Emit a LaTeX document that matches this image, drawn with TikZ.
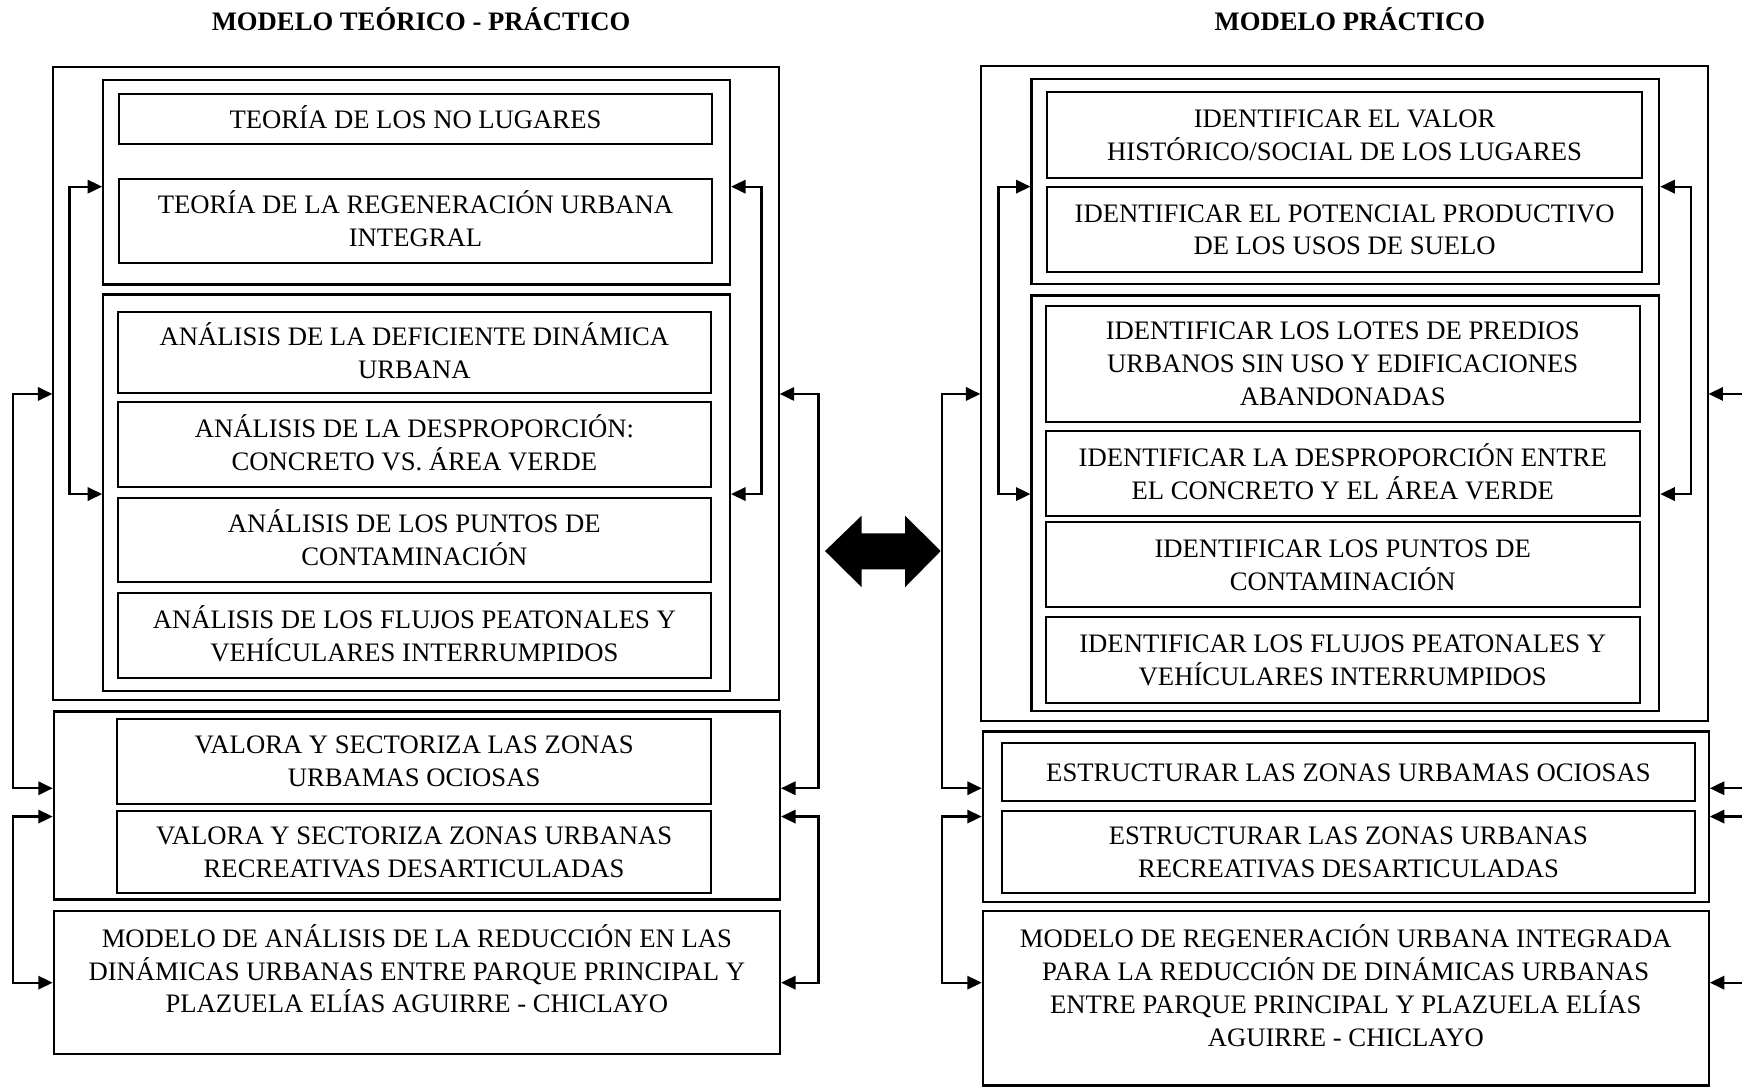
\documentclass[tikz,border=0pt]{standalone}
\usepackage{fontspec}
\setmainfont{Liberation Serif}
\usetikzlibrary{arrows.meta}
\newcommand{\mystrut}{\rule[-4pt]{0pt}{24pt}}
\newcommand{\lines}[1]{\mystrut#1\mystrut}
\newcommand{\fs}{\fontsize{24}{29.5}\selectfont}
\tikzset{
  outerbox/.style={draw, line width=1.7pt, inner sep=0pt, rectangle},
  groupbox/.style={draw, line width=2.1pt, inner sep=0pt, rectangle},
  item/.style={draw, line width=1.7pt, inner sep=0pt, rectangle, align=center, font=\fs},
  txt/.style={inner sep=0pt, align=center, font=\fs},
  ttl/.style={inner sep=0pt, font=\fs\bfseries, anchor=base},
  conn/.style={line width=2pt, {Triangle[length=13pt,width=12pt]}-{Triangle[length=13pt,width=12pt]}}
}
\begin{document}
\begin{tikzpicture}[x=1pt,y=-1pt]
\useasboundingbox (0,0) rectangle (1568,978);
\fill[white] (0,0) rectangle (1568,978);
\clip (0,0) rectangle (1568,978);

% titles
\node[ttl] (t1) at (379,27) {MODELO TEÓRICO - PRÁCTICO};
\node[ttl] (t2) at (1215,27) {MODELO PRÁCTICO};

% ---------------- left model ----------------
\node[outerbox, minimum width=653pt, minimum height=570pt] (A1) at (374.5,345) {};
\node[groupbox, minimum width=564pt, minimum height=184pt] (B1) at (375,164) {};
\node[item, minimum width=534pt, minimum height=45pt] (n1) at (374,107.5) {\lines{TEORÍA DE LOS NO LUGARES}};
\node[item, minimum width=534pt, minimum height=76pt] (n2) at (374,199) {\lines{TEORÍA DE LA REGENERACIÓN URBANA\\INTEGRAL}};
\node[groupbox, minimum width=564pt, minimum height=357pt] (B2) at (375,443.5) {};
\node[item, minimum width=534pt, minimum height=73pt] (n3) at (373,317.5) {\lines{ANÁLISIS DE LA DEFICIENTE DINÁMICA\\URBANA}};
\node[item, minimum width=534pt, minimum height=76pt] (n4) at (373,400) {\lines{ANÁLISIS DE LA DESPROPORCIÓN:\\CONCRETO VS. ÁREA VERDE}};
\node[item, minimum width=534pt, minimum height=76pt] (n5) at (373,486) {\lines{ANÁLISIS DE LOS PUNTOS DE\\CONTAMINACIÓN}};
\node[item, minimum width=534pt, minimum height=76pt] (n6) at (373,572) {\lines{ANÁLISIS DE LOS FLUJOS PEATONALES Y\\VEHÍCULARES INTERRUMPIDOS}};
\node[groupbox, minimum width=653.5pt, minimum height=169pt] (C1) at (375.25,725) {};
\node[item, minimum width=534.5pt, minimum height=76.6pt] (n7) at (372.75,685.3) {\lines{VALORA Y SECTORIZA LAS ZONAS\\URBAMAS OCIOSAS}};
\node[item, minimum width=534.5pt, minimum height=73.5pt] (n8) at (372.75,766.75) {\lines{VALORA Y SECTORIZA ZONAS URBANAS\\RECREATIVAS DESARTICULADAS}};
\node[groupbox, minimum width=653.5pt, minimum height=129pt] (D1) at (375.25,884.2) {};
\node[txt, anchor=north] (D1t) at ([yshift=-13.3pt]D1.north) {\lines{MODELO DE ANÁLISIS DE LA REDUCCIÓN EN LAS\\DINÁMICAS URBANAS ENTRE PARQUE PRINCIPAL Y\\PLAZUELA ELÍAS AGUIRRE - CHICLAYO}};

% ---------------- right model ----------------
\node[outerbox, minimum width=653.7pt, minimum height=589.2pt] (A2) at (1210.15,354) {};
\node[groupbox, minimum width=564.8pt, minimum height=184.2pt] (B3) at (1211,163.5) {};
\node[item, minimum width=535.2pt, minimum height=76.8pt] (m1) at (1210.3,121.5) {\lines{IDENTIFICAR EL VALOR\\HISTÓRICO/SOCIAL DE LOS LUGARES}};
\node[item, minimum width=535.2pt, minimum height=76.8pt] (m2) at (1210.3,206.7) {\lines{IDENTIFICAR EL POTENCIAL PRODUCTIVO\\DE LOS USOS DE SUELO}};
\node[groupbox, minimum width=564.8pt, minimum height=373.9pt] (B4) at (1211,453) {};
\node[item, minimum width=534.7pt, minimum height=104.1pt] (m3) at (1208.65,327.45) {\lines{IDENTIFICAR LOS LOTES DE PREDIOS\\URBANOS SIN USO Y EDIFICACIONES\\ABANDONADAS}};
\node[item, minimum width=534.7pt, minimum height=76.4pt] (m4) at (1208.65,426.2) {\lines{IDENTIFICAR LA DESPROPORCIÓN ENTRE\\EL CONCRETO Y EL ÁREA VERDE}};
\node[item, minimum width=534.7pt, minimum height=76.5pt] (m5) at (1208.65,508.35) {\lines{IDENTIFICAR LOS PUNTOS DE\\CONTAMINACIÓN}};
\node[item, minimum width=534.7pt, minimum height=76.8pt] (m6) at (1208.65,594) {\lines{IDENTIFICAR LOS FLUJOS PEATONALES Y\\VEHÍCULARES INTERRUMPIDOS}};
\node[groupbox, minimum width=653.3pt, minimum height=153.6pt] (C2) at (1211.35,735.3) {};
\node[item, minimum width=623.3pt, minimum height=52pt] (m7) at (1213.75,695) {\lines{ESTRUCTURAR LAS ZONAS URBAMAS OCIOSAS}};
\node[item, minimum width=623.3pt, minimum height=73.5pt] (m8) at (1213.75,766.75) {\lines{ESTRUCTURAR LAS ZONAS URBANAS\\RECREATIVAS DESARTICULADAS}};
\node[groupbox, minimum width=653.3pt, minimum height=157.3pt] (D2) at (1211.35,898.35) {};
\node[txt, anchor=north] (D2t) at ([yshift=-13.8pt]D2.north) {\lines{MODELO DE REGENERACIÓN URBANA INTEGRADA\\PARA LA REDUCCIÓN DE DINÁMICAS URBANAS\\ENTRE PARQUE PRINCIPAL Y PLAZUELA ELÍAS\\AGUIRRE - CHICLAYO}};

% y levels of connectors
\coordinate (ya) at (0,168);
\coordinate (yb) at (0,444.7);
\coordinate (yc) at (0,354.6);
\coordinate (yd) at (0,709.5);
\coordinate (ye) at (0,735);
\coordinate (yf) at (0,884.5);

% left connectors
\draw[conn] (B1.west|-ya) -- (62.6,168) -- (62.6,444.7) -- (B2.west|-yb);
\draw[conn] (B1.east|-ya) -- (685.4,168) -- (685.4,444.7) -- (B2.east|-yb);
\draw[conn] (A1.west|-yc) -- (11.7,354.6) -- (11.7,709.5) -- (C1.west|-yd);
\draw[conn] (A1.east|-yc) -- (736.7,354.6) -- (736.7,709.5) -- (C1.east|-yd);
\draw[conn] (C1.west|-ye) -- (11.7,735) -- (11.7,884.5) -- (D1.west|-yf);
\draw[conn] (C1.east|-ye) -- (736.7,735) -- (736.7,884.5) -- (D1.east|-yf);

% right connectors
\draw[conn] (B3.west|-ya) -- (898.8,168) -- (898.8,444.7) -- (B4.west|-yb);
\draw[conn] (B3.east|-ya) -- (1522.1,168) -- (1522.1,444.7) -- (B4.east|-yb);
\draw[conn] (A2.west|-yc) -- (847.9,354.6) -- (847.9,709.5) -- (C2.west|-yd);
\draw[conn] (C2.west|-ye) -- (847.9,735) -- (847.9,884.5) -- (D2.west|-yf);
\draw[conn] (A2.east|-yc) -- (1580,354.6) -- (1580,709.5) -- (C2.east|-yd);
\draw[conn] (C2.east|-ye) -- (1580,735) -- (1580,884.5) -- (D2.east|-yf);

% big double arrow
\fill[black] (742.6,496) -- (775.6,464.1) -- (775.6,480) -- (814.6,480) -- (814.6,464.1)
  -- (846.7,496) -- (814.6,528.6) -- (814.6,512.4) -- (775.6,512.4) -- (775.6,528.6) -- cycle;
\end{tikzpicture}
\end{document}
